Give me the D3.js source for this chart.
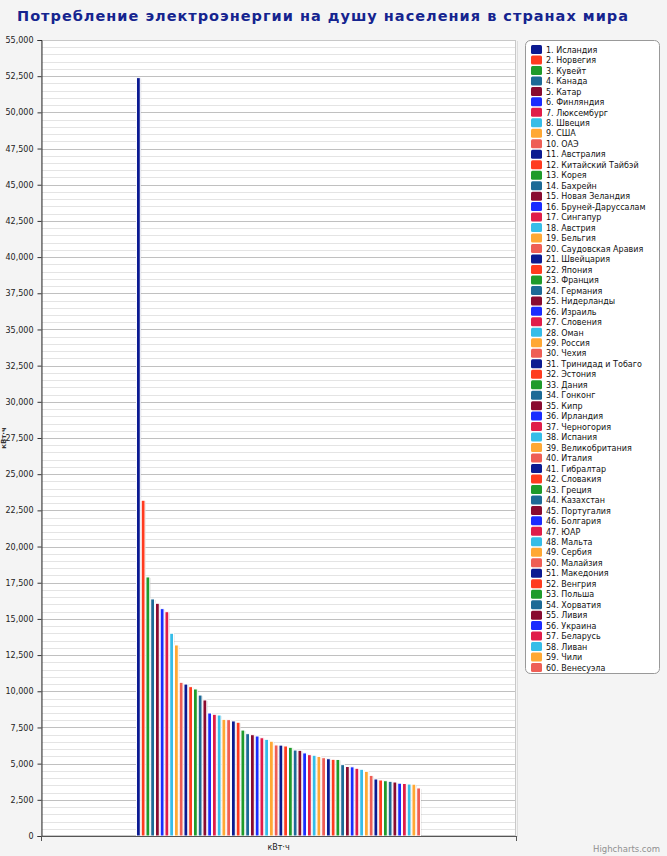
<!DOCTYPE html>
<html><head><meta charset="utf-8">
<script src="https://cdn.jsdelivr.net/npm/d3@7"></script>
<style>
html,body{margin:0;padding:0;background:#f4f4f4;}
svg{display:block;}
</style></head>
<body>
<svg id="chart" width="667" height="856"></svg>
<script>
const title = "Потребление электроэнергии на душу населения в странах мира";
const category = ["кВт·ч"];
const countries = ["Исландия","Норвегия","Кувейт","Канада","Катар","Финляндия","Люксембург","Швеция","США","ОАЭ",
"Австралия","Китайский Тайбэй","Корея","Бахрейн","Новая Зеландия","Бруней-Даруссалам","Сингапур","Австрия","Бельгия","Саудовская Аравия",
"Швейцария","Япония","Франция","Германия","Нидерланды","Израиль","Словения","Оман","Россия","Чехия",
"Тринидад и Тобаго","Эстония","Дания","Гонконг","Кипр","Ирландия","Черногория","Испания","Великобритания","Италия",
"Гибралтар","Словакия","Греция","Казахстан","Португалия","Болгария","ЮАР","Мальта","Сербия","Малайзия",
"Македония","Венгрия","Польша","Хорватия","Ливия","Украина","Беларусь","Ливан","Чили","Венесуэла"];
const values = [52400,23200,17900,16380,16080,15710,15500,14010,13200,10620,
10500,10320,10160,9740,9400,8500,8410,8360,8060,8040,
7950,7860,7320,7070,7000,6910,6790,6680,6550,6290,
6280,6220,6130,5940,5920,5740,5620,5580,5500,5410,
5340,5300,5290,4930,4800,4780,4680,4610,4470,4190,
3940,3870,3820,3780,3730,3650,3630,3590,3580,3320];
const palette = ["#0b1a91","#ff3b1f","#1f9b2b","#1d6a96","#890b30","#1a2cff","#e01d49","#36bde8","#ffa834","#ee5e55"];
const yTicks = [0,2500,5000,7500,10000,12500,15000,17500,20000,22500,25000,27500,30000,32500,35000,37500,40000,42500,45000,47500,50000,52500,55000];
const yMinorStep = 500;

const svg = d3.select("#chart");
const L = 41, R = 516, T = 40, B = 836;
const FONT = "DejaVu Sans, Verdana, sans-serif";

const y = d3.scaleLinear().domain([0,55000]).range([B,T]);
const x0 = d3.scaleBand().domain(category).range([L,R]);
const x1 = d3.scaleBand().domain(countries)
  .range([x0(category[0]) + x0.bandwidth()*0.2, x0(category[0]) + x0.bandwidth()*0.8])
  .paddingInner(0.2).paddingOuter(0.1);

// title
svg.append("text").attr("x", 322.5).attr("y", 21).attr("text-anchor","middle")
  .attr("font-family",FONT).attr("font-weight","bold")
  .attr("font-size","14.5px").attr("textLength",611).attr("lengthAdjust","spacing")
  .attr("fill","#15248f").text(title);

// plot background
svg.append("rect").attr("x",L).attr("y",T).attr("width",R-L).attr("height",B-T).attr("fill","#fff");

// minor grid
const minor = d3.range(0, 55001, yMinorStep).filter(v => v % 2500 !== 0);
svg.append("g").selectAll("line").data(minor).join("line")
  .attr("x1",L).attr("x2",R).attr("y1",d=>Math.round(y(d))+0.5).attr("y2",d=>Math.round(y(d))+0.5)
  .attr("stroke","#e4e4e4").attr("stroke-width",1);
// major grid
svg.append("g").selectAll("line").data(yTicks).join("line")
  .attr("x1",L).attr("x2",R).attr("y1",d=>Math.round(y(d))+0.5).attr("y2",d=>Math.round(y(d))+0.5)
  .attr("stroke","#c0c0c0").attr("stroke-width",1);

// plot border
svg.append("rect").attr("x",L+0.5).attr("y",T+0.5).attr("width",R-L-1).attr("height",B-T-1)
  .attr("fill","none").attr("stroke","#c8c8c8").attr("stroke-width",1);
svg.append("line").attr("x1",R+1.5).attr("x2",R+1.5).attr("y1",T+1).attr("y2",B+1).attr("stroke","#ddd");

// bars
const bars = svg.append("g");
countries.forEach((c,i) => {
  const bx = x1(c), bw = x1.bandwidth(), by = y(values[i]);
  bars.append("rect").attr("x",bx+1).attr("y",by+1).attr("width",bw).attr("height",B-by-1)
    .attr("fill","#000").attr("opacity",0.12);
  bars.append("rect").attr("x",bx).attr("y",by).attr("width",bw).attr("height",B-by)
    .attr("fill",palette[i%10]).attr("stroke","#fff").attr("stroke-width",1);
});

// y axis
const yAxis = d3.axisLeft(y).tickValues(yTicks).tickSize(4).tickFormat(d3.format(","));
const ga = svg.append("g").attr("transform",`translate(${L+0.5},0)`).call(yAxis);
ga.select(".domain").attr("stroke","#333");
ga.selectAll(".tick line").attr("stroke","#333");
ga.selectAll("text").attr("font-family",FONT).attr("font-size","8px").attr("fill","#222").attr("dx","-1");

// x axis
const xAxis = d3.axisBottom(x0).tickSize(5).tickFormat("").tickValues([]);
const gx = svg.append("g").attr("transform",`translate(0,${B+0.5})`).call(xAxis);
gx.select(".domain").attr("stroke","#555").attr("d",`M${L},0H${R}`);
[L, R].forEach(t => svg.append("line").attr("x1",t+0.5).attr("x2",t+0.5).attr("y1",B).attr("y2",B+5).attr("stroke","#555"));
svg.append("text").attr("x", x0(category[0]) + x0.bandwidth()/2).attr("y", 850).attr("text-anchor","middle")
  .attr("font-family",FONT).attr("font-size","8px").attr("fill","#222").text(category[0]);

// y title
svg.append("text").attr("transform",`translate(6,${(T+B)/2}) rotate(-90)`).attr("text-anchor","middle")
  .attr("font-family",FONT).attr("font-size","7px").attr("font-weight","bold").attr("fill","#333").text(category[0]);

// legend
const lg = svg.append("g");
lg.append("rect").attr("x",525.5).attr("y",40.5).attr("width",134).attr("height",633).attr("rx",5)
  .attr("fill","#fff").attr("stroke","#999").attr("stroke-width",1);
const ly = d3.scaleLinear().domain([0,59]).range([49.5,667.5]);
countries.forEach((c,i) => {
  lg.append("rect").attr("x",531).attr("y",ly(i)-4.5).attr("width",11).attr("height",9).attr("rx",1.5)
    .attr("fill",palette[i%10]);
  lg.append("text").attr("x",546).attr("y",ly(i)+3.2)
    .attr("font-family",FONT).attr("font-size","8px").attr("fill","#111")
    .text(`${i+1}. ${c}`);
});

// credits
svg.append("text").attr("x",660).attr("y",852).attr("text-anchor","end")
  .attr("font-family",FONT).attr("font-size","8.5px").attr("fill","#909090").text("Highcharts.com");
</script>
</body></html>
